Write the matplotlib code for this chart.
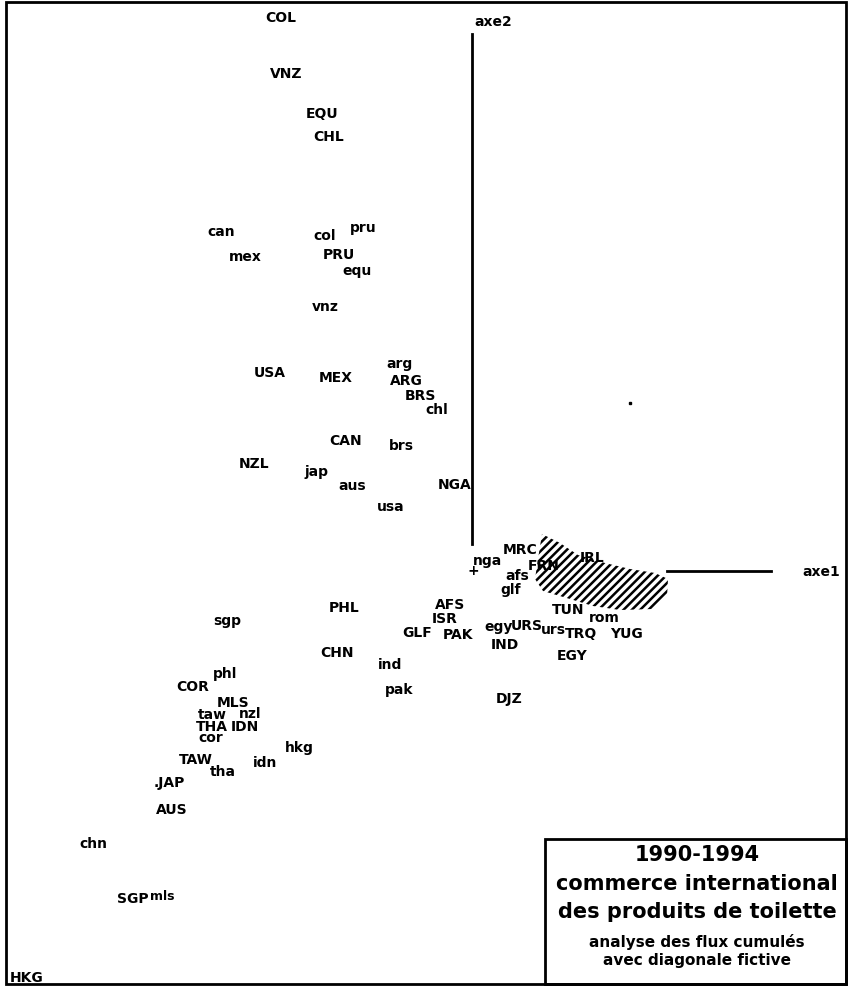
import matplotlib
matplotlib.use("Agg")
import matplotlib.pyplot as plt
import matplotlib.patches as patches

plt.rcParams['hatch.linewidth'] = 1.8

# label positions (pixel-like plane units)
labels = ["COL", "VNZ", "EQU", "CHL", "can", "col", "pru", "mex", "PRU", "equ",
          "vnz", "USA", "MEX", "arg", "ARG", "BRS", "chl", "CAN", "brs", "NZL",
          "jap", "aus", "NGA", "usa", "nga", "MRC", "afs", "FRN", "IRL", "glf",
          "AFS", "ISR", "GLF", "PAK", "PHL", "sgp", "TUN", "rom", "egy", "URS",
          "urs", "TRQ", "YUG", "IND", "EGY", "CHN", "ind", "phl", "COR", "pak",
          "DJZ", "MLS", "taw", "nzl", "THA", "IDN", "cor", "hkg", "TAW", "idn",
          "tha", ".JAP", "AUS", "chn", "SGP", "mls", "HKG"]
xs = [281, 286, 322, 329, 221, 325, 363, 245, 339, 357,
      325, 270, 336, 400, 406, 420, 437, 346, 401, 254,
      317, 352, 455, 391, 488, 520, 517, 544, 592, 511,
      450, 445, 417, 458, 344, 227, 568, 604, 499, 527,
      553, 581, 626, 505, 572, 337, 390, 225, 193, 399,
      509, 233, 212, 250, 212, 245, 211, 299, 196, 265,
      223, 169, 172, 93, 133, 162, 27]
ys = [18, 74, 114, 137, 232, 236, 228, 257, 255, 271,
      307, 373, 378, 364, 381, 396, 410, 441, 446, 464,
      472, 486, 485, 507, 561, 550, 576, 566, 558, 590,
      605, 619, 633, 635, 608, 621, 610, 618, 627, 626,
      630, 634, 634, 645, 656, 653, 665, 674, 687, 690,
      699, 703, 715, 714, 727, 727, 738, 748, 760, 763,
      772, 783, 810, 844, 899, 896, 978]

# origin and axis markers
origin = (473, 571)
axe2_line = ([472, 472], [35, 545])
axe1_line = ([667, 771], [572, 572])

# hatched zone (outline of the cloud of european/mediterranean points)
hatch_x = [542, 560, 578, 605, 630, 655, 668, 667, 653, 620, 593, 570, 543, 535, 538]
hatch_y = [535, 544, 556, 564, 570, 574, 580, 598, 610, 611, 607, 600, 592, 580, 560]

title_lines = ["1990-1994", "commerce international", "des produits de toilette"]
sub_lines = ["analyse des flux cumulés", "avec diagonale fictive"]

fig = plt.figure(figsize=(8.49, 9.87), dpi=100)
ax = fig.add_axes([0, 0, 1, 1])
ax.set_xlim(0, 849)
ax.set_ylim(987, 0)
ax.axis('off')

# outer frame
ax.add_patch(patches.Rectangle((6, 3), 840, 982, fill=False, edgecolor='black', linewidth=2))

ax.add_patch(patches.Polygon(list(zip(hatch_x, hatch_y)), closed=True, facecolor='none',
                             edgecolor='black', linewidth=0, hatch='////'))

ax.plot(*axe2_line, color='black', linewidth=2)
ax.plot(*axe1_line, color='black', linewidth=2)
ax.text(493, 22, "axe2", ha='center', va='center', fontsize=10, fontweight='bold')
ax.text(821, 572, "axe1", ha='center', va='center', fontsize=10, fontweight='bold')
ax.text(origin[0], origin[1], "+", ha='center', va='center', fontsize=10, fontweight='bold')
ax.plot([630], [404], marker='s', markersize=2, color='black')

for lab, x, y in zip(labels, xs, ys):
    fs = 9 if lab == "mls" else 10
    ax.text(x, y, lab, ha='center', va='center', fontsize=fs, fontweight='bold')

# legend box
ax.add_patch(patches.Rectangle((545, 840), 301, 145, fill=False, edgecolor='black', linewidth=2))
for i, line in enumerate(title_lines):
    ax.text(697, 855 + i * 28.5, line, ha='center', va='center', fontsize=15, fontweight='bold')
for i, line in enumerate(sub_lines):
    ax.text(697, 942 + i * 19, line, ha='center', va='center', fontsize=11, fontweight='bold')

fig.savefig("out.png", dpi=100)
